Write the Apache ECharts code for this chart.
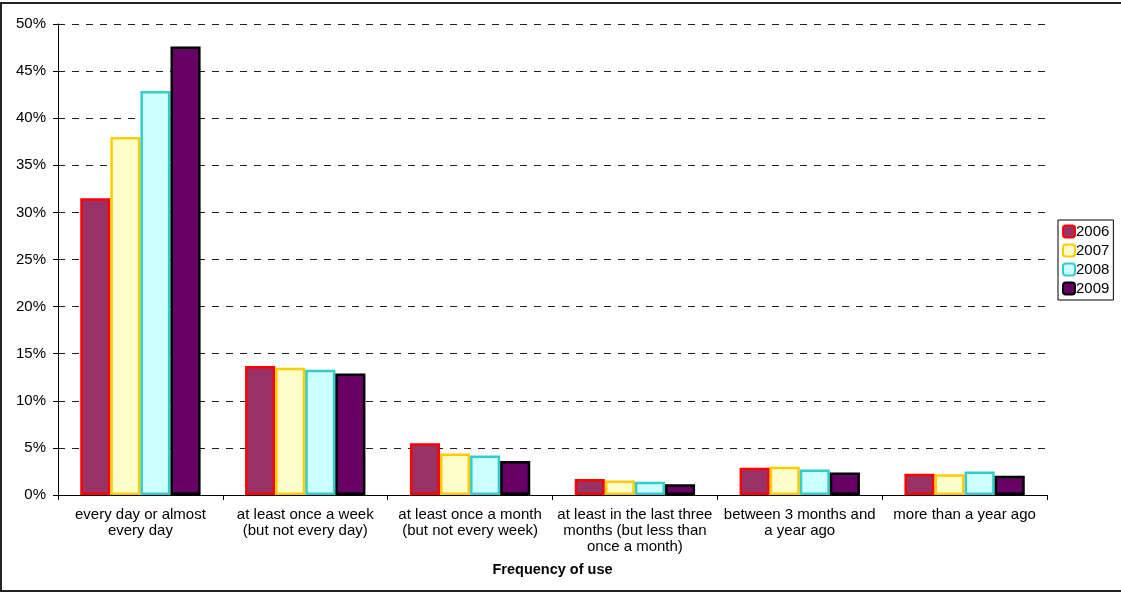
<!DOCTYPE html>
<html>
<head>
<meta charset="utf-8">
<script src="https://cdn.jsdelivr.net/npm/echarts@6/dist/echarts.min.js"></script>
<style>
html,body{margin:0;padding:0;background:#fff;}
#chart{width:1121px;height:593px;}
</style>
</head>
<body>
<div id="chart"></div>
<script>
const categories = [
  "every day or almost\nevery day",
  "at least once a week\n(but not every day)",
  "at least once a month\n(but not every week)",
  "at least in the last three\nmonths (but less than\nonce a month)",
  "between 3 months and\na year ago",
  "more than a year ago"
];
const years = ["2006", "2007", "2008", "2009"];
const v2006 = [31.5, 13.7, 5.5, 1.7, 2.9, 2.25];
const v2007 = [38.0, 13.5, 4.4, 1.55, 3.0, 2.2];
const v2008 = [42.9, 13.3, 4.2, 1.4, 2.7, 2.5];
const v2009 = [47.6, 12.9, 3.6, 1.15, 2.4, 2.05];
const yTicks = [0, 5, 10, 15, 20, 25, 30, 35, 40, 45, 50];

const seriesValues = [v2006, v2007, v2008, v2009];
const fills = ["#993366", "#FFFFCC", "#CCFFFF", "#660066"];
const borders = ["#FF0000", "#FFCC00", "#33CCCC", "#000000"];
const font = "Liberation Sans, Arial, sans-serif";

const chart = echarts.init(document.getElementById('chart'));
chart.setOption({
  animation: false,
  textStyle: { fontFamily: font },
  graphic: [{
    type: 'rect',
    shape: { x: 1, y: 3, width: 1140, height: 588 },
    style: { fill: 'none', stroke: '#222', lineWidth: 2 }
  }],
  grid: { left: 58, right: 74, top: 24, bottom: 98 },
  legend: {
    orient: 'vertical',
    left: 1058, top: 220,
    padding: [4, 4, 4, 4],
    itemWidth: 12, itemHeight: 12, itemGap: 4,
    borderColor: '#000', borderWidth: 1,
    textStyle: { fontSize: 15, color: '#000', lineHeight: 15, fontFamily: font, padding: [0, 0, 0, -4] },
    data: years
  },
  xAxis: {
    type: 'category',
    data: categories,
    name: 'Frequency of use',
    nameLocation: 'middle',
    nameGap: 67,
    nameTextStyle: { fontSize: 14.5, fontWeight: 'bold', color: '#000', fontFamily: font },
    axisLine: { lineStyle: { color: '#000', width: 1 } },
    axisTick: { show: true, length: 5, lineStyle: { color: '#000' } },
    axisLabel: { fontSize: 15, color: '#000', margin: 12, lineHeight: 16, interval: 0, fontFamily: font }
  },
  yAxis: {
    type: 'value',
    min: yTicks[0], max: yTicks[yTicks.length - 1], interval: 5,
    axisLine: { show: true, lineStyle: { color: '#000', width: 1 } },
    axisTick: { show: true, length: 5, lineStyle: { color: '#000' } },
    axisLabel: { fontSize: 15, color: '#000', margin: 12, formatter: '{value}%', fontFamily: font },
    splitLine: { show: true, lineStyle: { color: '#222', type: [7, 7], width: 1 } }
  },
  series: years.map((y, i) => ({
    name: y,
    type: 'bar',
    data: seriesValues[i],
    barGap: '0%',
    barCategoryGap: '27%',
    itemStyle: { color: fills[i], borderColor: borders[i], borderWidth: 2.5 }
  }))
});
</script>
</body>
</html>
